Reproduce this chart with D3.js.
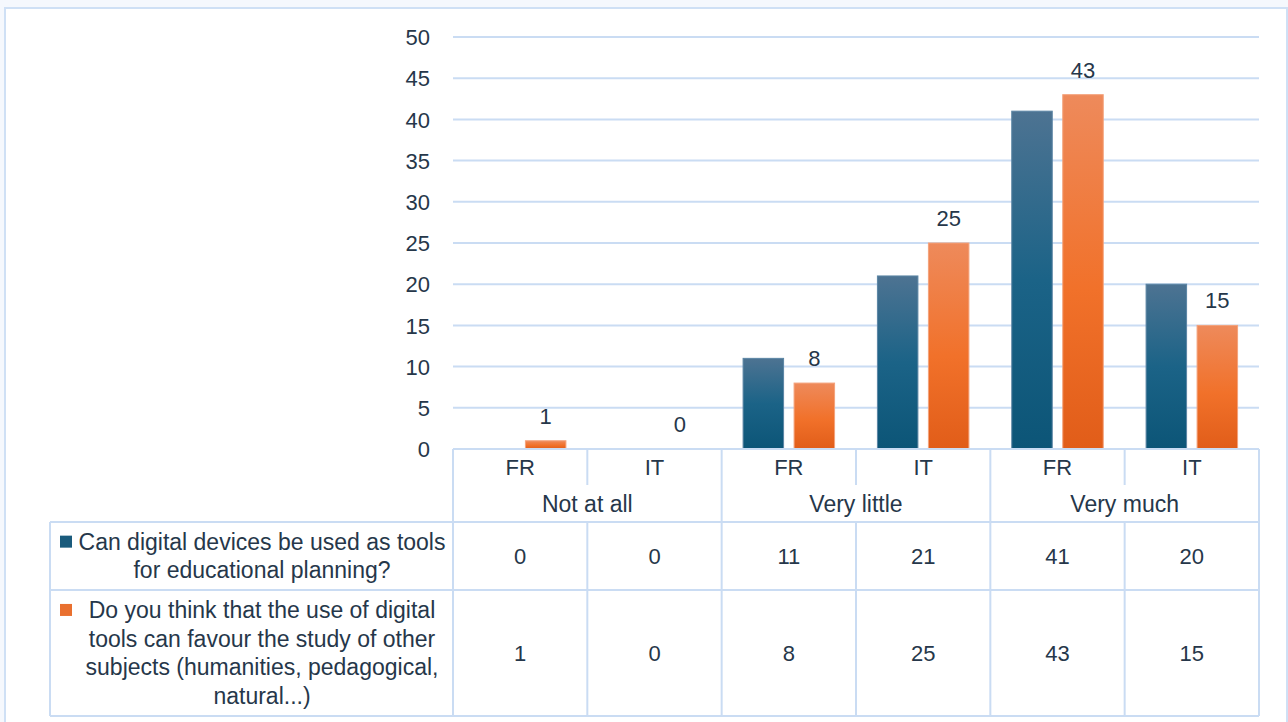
<!DOCTYPE html>
<html>
<head>
<meta charset="utf-8">
<script src="https://cdn.jsdelivr.net/npm/d3@7"></script>
<style>
  html, body { margin: 0; padding: 0; background: #f5f8fd; }
  svg { display: block; }
  text { font-family: "Liberation Sans", Arial, sans-serif; fill: #26374a; }
</style>
</head>
<body>
<svg id="chart" width="1288" height="722"></svg>
<script>
// Response groups and the country split inside each group
const groups = ["Not at all", "Very little", "Very much"];
const countries = ["FR", "IT"];
const seriesKeys = ["planning", "favour"];

// Counts per (group, country) column, left to right
const planningValues = [0, 0, 11, 21, 41, 20];
const favourValues = [1, 0, 8, 25, 43, 15];

// Legend text for each series, already broken into lines
const planningLabel = ["Can digital devices be used as tools", "for educational planning?"];
const favourLabel = ["Do you think that the use of digital", "tools can favour the study of other",
                     "subjects (humanities, pedagogical,", "natural...)"];

const yTicks = [0, 5, 10, 15, 20, 25, 30, 35, 40, 45, 50];

const columns = [];
groups.forEach(g => countries.forEach(c => columns.push({ group: g, country: c, key: g + "|" + c })));
columns.forEach((col, i) => { col.planning = planningValues[i]; col.favour = favourValues[i]; });

const series = [
  { key: "planning", label: planningLabel, values: planningValues, fill: "url(#gradBlue)", stroke: "#5b85a4", swatch: "#1a5b7c" },
  { key: "favour", label: favourLabel, values: favourValues, fill: "url(#gradOrange)", stroke: "#f4a27b", swatch: "#e9702f" }
];

const svg = d3.select("#chart");
const NUM_FONT = 22;   // numbers: ticks, values
const TXT_FONT = 23;   // words: categories, legend

// Gradients for the bars (per bar, light at top, darker at base)
const defs = svg.append("defs");
function gradient(id, stops) {
  const g = defs.append("linearGradient").attr("id", id).attr("x1", 0).attr("y1", 0).attr("x2", 0).attr("y2", 1);
  stops.forEach(s => g.append("stop").attr("offset", s[0]).attr("stop-color", s[1]));
}
gradient("gradBlue", [[0, "#4d7392"], [0.5, "#1b6387"], [1, "#0c5577"]]);
gradient("gradOrange", [[0, "#ee8a5b"], [0.55, "#f1712a"], [1, "#e15d19"]]);

// Outer frame
svg.append("rect").attr("x", 5).attr("y", 8).attr("width", 1282).attr("height", 720)
  .attr("fill", "#ffffff").attr("stroke", "#cfe0f5").attr("stroke-width", 2);

const plotLeft = 453, plotRight = 1259, plotTop = 37, plotBottom = 449;
const tableLeft = 50;
const rowCat = 485, rowGroup = 522, rowA = 590, rowB = 716;

const x = d3.scaleBand().domain(columns.map(d => d.key)).range([plotLeft, plotRight]).padding(0);
const xInner = d3.scaleBand().domain(seriesKeys).range([0, x.bandwidth()]).paddingInner(0.206).paddingOuter(0.42);
const y = d3.scaleLinear().domain([0, 50]).range([plotBottom, plotTop]);

const lineColor = "#cadcf3";

// Gridlines
svg.append("g").selectAll("line").data(yTicks.filter(t => t > 0)).join("line")
  .attr("x1", plotLeft).attr("x2", plotRight)
  .attr("y1", d => y(d)).attr("y2", d => y(d))
  .attr("stroke", lineColor).attr("stroke-width", 2);

// Y axis labels
const yAxis = d3.axisLeft(y).tickValues(yTicks).tickSize(0).tickPadding(0);
const yG = svg.append("g").attr("transform", `translate(430,0)`).call(yAxis);
yG.select(".domain").remove();
yG.selectAll("text").style("font-size", NUM_FONT + "px").style("font-family", "'Liberation Sans', Arial, sans-serif")
  .attr("fill", "#26374a").attr("dy", "0.35em");

// Bars
series.forEach(s => {
  svg.append("g").selectAll("rect").data(columns).join("rect")
    .attr("x", d => x(d.key) + xInner(s.key))
    .attr("width", xInner.bandwidth())
    .attr("y", d => y(d[s.key]))
    .attr("height", d => y(0) - y(d[s.key]))
    .attr("fill", s.fill)
    .attr("stroke", s.stroke).attr("stroke-width", 1);
});

// Value labels on the second series
svg.append("g").selectAll("text").data(columns).join("text")
  .attr("x", d => x(d.key) + xInner("favour") + xInner.bandwidth() / 2)
  .attr("y", d => y(d.favour) - 17)
  .attr("text-anchor", "middle").style("font-size", NUM_FONT + "px")
  .text(d => d.favour);

// Table grid
const tg = svg.append("g").attr("stroke", lineColor).attr("stroke-width", 2);
tg.append("line").attr("x1", plotLeft).attr("x2", plotRight).attr("y1", plotBottom).attr("y2", plotBottom);
[rowGroup, rowA, rowB].forEach(yy =>
  tg.append("line").attr("x1", tableLeft).attr("x2", plotRight).attr("y1", yy).attr("y2", yy));
tg.append("line").attr("x1", tableLeft).attr("x2", tableLeft).attr("y1", rowGroup).attr("y2", rowB);
columns.forEach((d, i) => {
  const xx = x(d.key);
  if (i % 2 === 0) {
    tg.append("line").attr("x1", xx).attr("x2", xx).attr("y1", plotBottom).attr("y2", rowB);
  } else {
    tg.append("line").attr("x1", xx).attr("x2", xx).attr("y1", plotBottom).attr("y2", rowCat);
    tg.append("line").attr("x1", xx).attr("x2", xx).attr("y1", rowGroup).attr("y2", rowB);
  }
});
tg.append("line").attr("x1", plotRight).attr("x2", plotRight).attr("y1", plotBottom).attr("y2", rowB);

// Country labels
svg.append("g").selectAll("text").data(columns).join("text")
  .attr("x", d => x(d.key) + x.bandwidth() / 2).attr("y", 467).attr("dy", "0.35em")
  .attr("text-anchor", "middle").style("font-size", NUM_FONT + "px").text(d => d.country);

// Group labels
svg.append("g").selectAll("text").data(groups).join("text")
  .attr("x", g => x(g + "|FR")).attr("dx", x.bandwidth()).attr("y", 504).attr("dy", "0.35em")
  .attr("text-anchor", "middle").style("font-size", TXT_FONT + "px").text(g => g);

// Data table rows with legend keys
const rowBounds = [[rowGroup, rowA], [rowA, rowB]];
const lineH = 28.7;
series.forEach((s, si) => {
  const [top, bot] = rowBounds[si];
  const mid = (top + bot) / 2;
  const n = s.label.length;
  const firstY = mid - (n - 1) * lineH / 2;
  s.label.forEach((ln, li) => {
    svg.append("text").attr("x", 262).attr("y", firstY + li * lineH).attr("dy", "0.35em")
      .attr("text-anchor", "middle").style("font-size", TXT_FONT + "px").text(ln);
  });
  svg.append("rect").attr("x", 60).attr("y", firstY - 6).attr("width", 12).attr("height", 12)
    .attr("fill", s.swatch);
  svg.append("g").selectAll("text").data(columns).join("text")
    .attr("x", d => x(d.key) + x.bandwidth() / 2).attr("y", mid).attr("dy", "0.35em")
    .attr("text-anchor", "middle").style("font-size", NUM_FONT + "px").text(d => d[s.key]);
});
</script>
</body>
</html>
